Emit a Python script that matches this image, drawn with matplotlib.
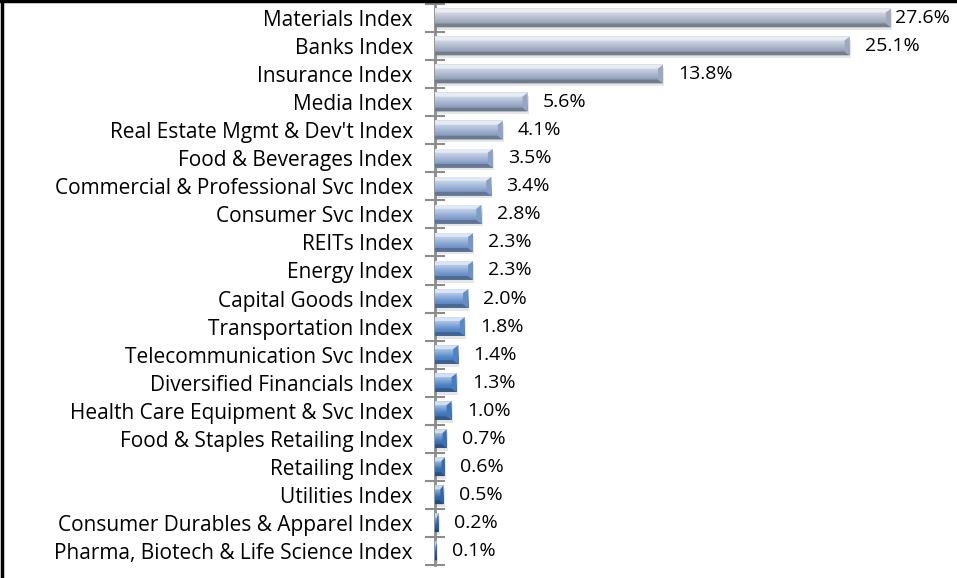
import matplotlib
matplotlib.use("Agg")
import matplotlib.pyplot as plt
import numpy as np
from matplotlib.colors import LinearSegmentedColormap, to_rgb
from matplotlib.patches import Polygon, Rectangle
from matplotlib.lines import Line2D

# index weights (%)
sectors = [
    "Materials Index", "Banks Index", "Insurance Index", "Media Index",
    "Real Estate Mgmt & Dev't Index", "Food & Beverages Index",
    "Commercial & Professional Svc Index", "Consumer Svc Index",
    "REITs Index", "Energy Index", "Capital Goods Index",
    "Transportation Index", "Telecommunication Svc Index",
    "Diversified Financials Index", "Health Care Equipment & Svc Index",
    "Food & Staples Retailing Index", "Retailing Index", "Utilities Index",
    "Consumer Durables & Apparel Index", "Pharma, Biotech & Life Science Index",
]
weights = [27.6, 25.1, 13.8, 5.6, 4.1, 3.5, 3.4, 2.8, 2.3, 2.3,
           2.0, 1.8, 1.4, 1.3, 1.0, 0.7, 0.6, 0.5, 0.2, 0.1]

plt.rcParams['font.family'] = ['Open Sans', 'DejaVu Sans']
LABEL_FS = 15
VALUE_FS = 14

fig = plt.figure(figsize=(9.57, 5.78), dpi=100)
ax = fig.add_axes([435 / 957, 13 / 578, 1 - 435 / 957, 561 / 578])

n = len(sectors)
ypos = np.arange(n)
ax.set_ylim(n - 0.5, -0.5)
ax.set_xlim(0, 31.6)

cmap = LinearSegmentedColormap.from_list(
    "bars", ["#abb4c6", "#8fa8d4", "#4f86cc", "#2a5c9e"])


def shade(c, f):
    c = np.array(to_rgb(c))
    if f >= 0:
        return tuple(c + (1 - c) * f)
    return tuple(c * (1 + f))


h = 0.66
for i, (y, v) in enumerate(zip(ypos, weights)):
    base = cmap(i / (n - 1))[:3]
    yt, yb = y - h / 2, y + h / 2
    # soft shadow
    ax.add_patch(Rectangle((0, yt + 0.1), v + 0.08, h, color="#b8b8b8",
                           alpha=0.35, lw=0, zorder=2))
    # body gradient
    grad = np.array([shade(base, 0.6), shade(base, 0.3), base,
                     shade(base, -0.15)])[:, None, :]
    ax.imshow(grad, extent=[0, v, yb, yt], aspect="auto",
              interpolation="bilinear", zorder=3)
    dx = min(0.3, v * 0.35)
    dy = h * 0.2
    ax.add_patch(Polygon([(0, yt), (v, yt), (v - dx, yt + dy), (0, yt + dy)],
                         closed=True, color=shade(base, 0.75), lw=0, zorder=4))
    ax.add_patch(Polygon([(0, yb), (v, yb), (v - dx, yb - dy), (0, yb - dy)],
                         closed=True, color=shade(base, -0.3), lw=0, zorder=4))
    ax.add_patch(Polygon([(v, yt), (v, yb), (v - dx, yb - dy), (v - dx, yt + dy)],
                         closed=True, color=shade(base, -0.05), lw=0, zorder=4))
    # value label; the widest bar's label sits tight to keep it on the canvas
    off = 3 if v > 0.85 * ax.get_xlim()[1] else 11
    ax.annotate(f"{v:.1f}%", (v, y), xytext=(off, 0),
                textcoords="offset points", ha="left", va="center",
                fontsize=VALUE_FS, annotation_clip=False)

ax.set_yticks(np.arange(n + 1) - 0.5)
ax.set_yticklabels([])
ax.set_yticks(ypos, minor=True)
ax.set_yticklabels(sectors, minor=True, fontsize=LABEL_FS)
ax.tick_params(axis="y", which="major", direction="inout", length=14,
               width=1.5, color="#8c8c8c")
ax.tick_params(axis="y", which="minor", length=0, pad=16)
ax.set_xticks([])

for s in ["top", "right", "bottom"]:
    ax.spines[s].set_visible(False)
ax.spines["left"].set_color("#8c8c8c")
ax.spines["left"].set_linewidth(2)

# black frame on top and left edges
fig.add_artist(Line2D([0, 1], [1 - 1 / 578, 1 - 1 / 578], color="black",
                      lw=2.5, transform=fig.transFigure))
fig.add_artist(Line2D([1.5 / 957, 1.5 / 957], [0, 1], color="black",
                      lw=2.5, transform=fig.transFigure))

fig.savefig("out.png", dpi=100)
